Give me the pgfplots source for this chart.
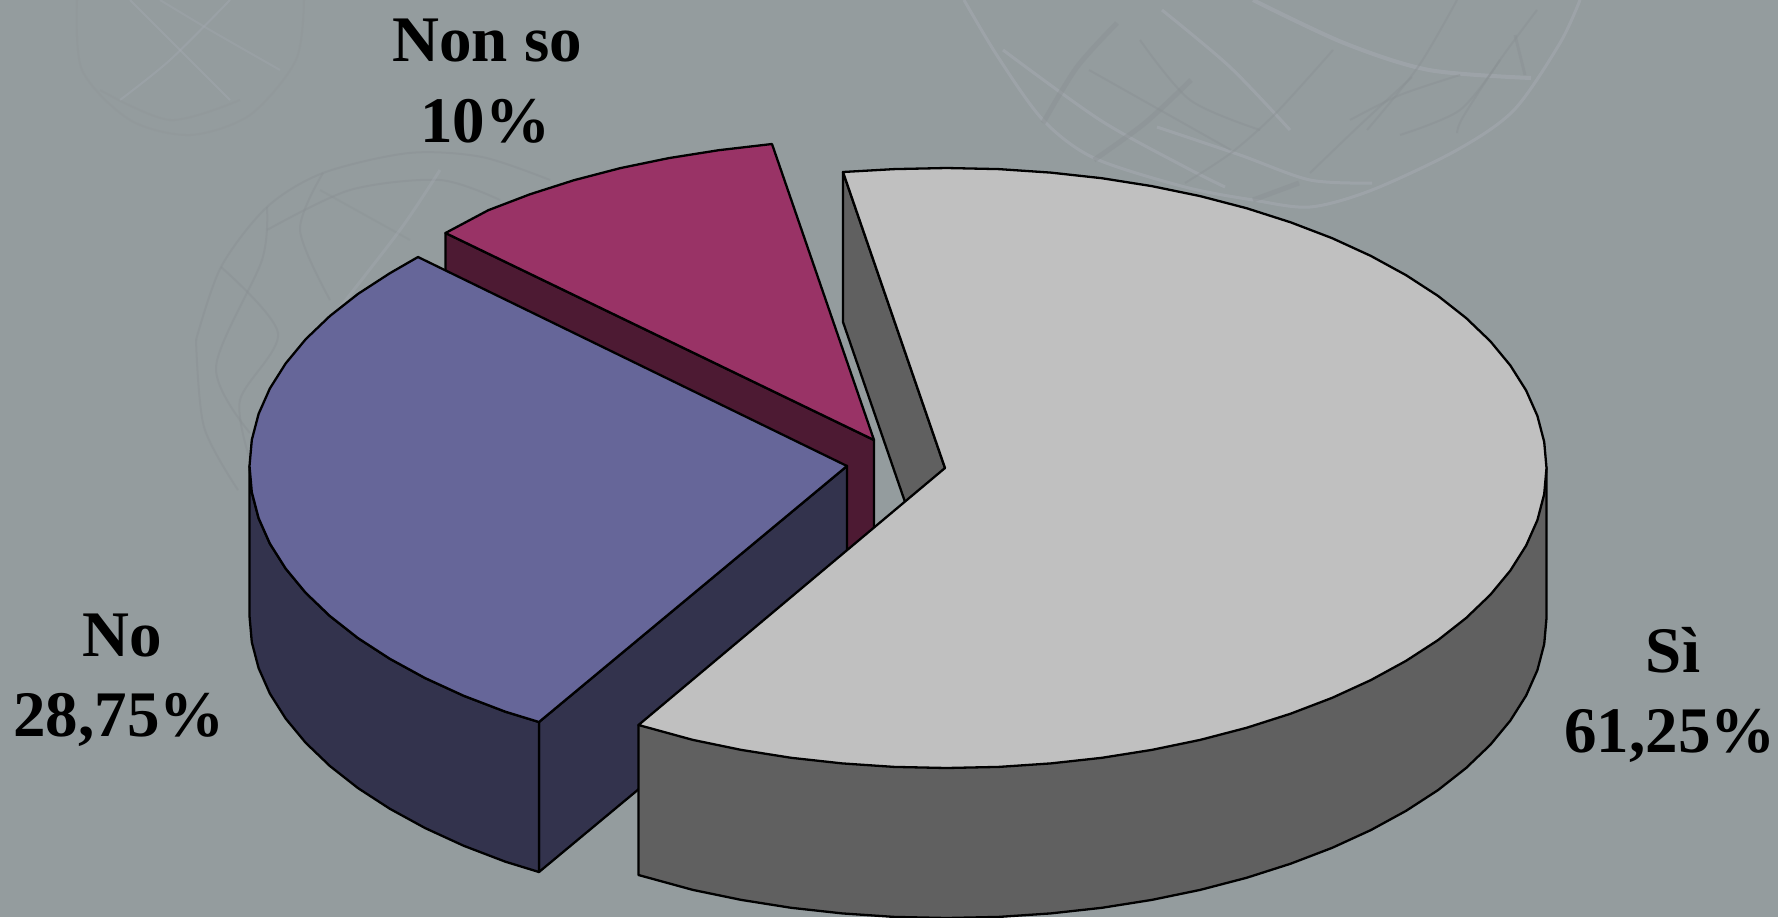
\documentclass[border=0pt]{standalone}
\usepackage{pgfplots}
\pgfplotsset{compat=1.18}
\usepackage{fontspec}
\setmainfont{Liberation Serif}
\definecolor{bg}{HTML}{949C9E}
\definecolor{meshl}{HTML}{A3A9B0}
\definecolor{meshd}{HTML}{8A9093}
\definecolor{sitop}{HTML}{C0C0C0}
\definecolor{siside}{HTML}{606060}
\definecolor{notop}{HTML}{666699}
\definecolor{noside}{HTML}{33334D}
\definecolor{nstop}{HTML}{993366}
\definecolor{nsside}{HTML}{4D1A33}
\newcommand{\lab}[1]{\fontsize{32.5}{38}\selectfont\bfseries #1}
\begin{document}
\begin{tikzpicture}
\begin{axis}[
  width=889pt, height=458.5pt, scale only axis,
  xmin=0, xmax=1778, ymin=0, ymax=917, y dir=reverse,
  hide axis, clip=true,
  slice/.style={draw=black, line width=1.15pt, line join=round},
  wl/.style={meshl, smooth, line width=1.5pt, opacity=.6},
  wd/.style={meshd, smooth, line width=1pt, opacity=.45},
  wt/.style={meshd, smooth, line width=2.5pt, opacity=.45},
]
% background
\addplot[fill=bg, draw=none] coordinates {(0,0)(1778,0)(1778,917)(0,917)} -- cycle;

% faint spheres: right
\addplot[wl] coordinates {(964,0)(998,57)(1043,120)(1094,158)(1185,187)(1253,200)(1310,207)(1372,190)(1457,150)(1514,110)(1560,43)(1580,0)};
\addplot[wl, line width=2pt] coordinates {(1253,0)(1344,43)(1429,70)(1531,78)};
\addplot[wl] coordinates {(1162,10)(1230,67)(1290,130)};
\addplot[wl] coordinates {(1003,50)(1100,120)(1185,167)(1225,187)};
\addplot[wl] coordinates {(1157,127)(1240,155)(1310,180)(1372,183)};
\addplot[wd] coordinates {(1089,70)(1160,110)(1231,150)};
\addplot[wd] coordinates {(1333,50)(1276,113)(1231,153)(1185,183)};
\addplot[wd] coordinates {(1457,0)(1418,67)(1367,130)};
\addplot[wd] coordinates {(1412,77)(1360,125)(1310,173)};
\addplot[wd] coordinates {(1537,10)(1500,60)(1463,117)(1457,133)};
\addplot[wd] coordinates {(1350,120)(1400,95)(1460,75)};
\addplot[wd] coordinates {(1400,135)(1460,110)(1500,60)};
\addplot[wd] coordinates {(1140,40)(1190,100)(1260,130)};
\addplot[wt] coordinates {(1117,23)(1077,67)(1043,123)};
\addplot[wt] coordinates {(1191,80)(1145,123)(1094,160)};
\addplot[wt] coordinates {(1299,183)(1253,200)};
\addplot[wt, line width=1.5pt] coordinates {(1515,35)(1525,75)};

% faint spheres: middle
\addplot[wd] coordinates {(196,340)(221,267)(267,207)(323,173)(409,153)(482,157)(550,180)};
\addplot[wd] coordinates {(196,340)(204,427)(238,490)};
\addplot[wd] coordinates {(221,267)(278,333)(240,400)(250,460)};
\addplot[wd] coordinates {(267,207)(262,260)(216,367)(250,433)};
\addplot[wd] coordinates {(323,173)(300,230)(330,300)};
\addplot[wd] coordinates {(267,230)(350,190)(440,180)(500,200)};
\addplot[wd, opacity=.3] coordinates {(320,190)(410,240)};
\addplot[wl, opacity=.4] coordinates {(440,170)(400,230)(330,320)};

% faint spheres: top left
\addplot[wd, opacity=.2] coordinates {(77,0)(82,70)(130,120)(190,135)(250,115)(296,60)(304,0)};
\addplot[wl, line width=1pt, opacity=.45] coordinates {(130,0)(180,50)(230,100)};
\addplot[wl, line width=1pt, opacity=.45] coordinates {(230,0)(170,60)(120,100)};
\addplot[wl, line width=1pt, opacity=.35] coordinates {(160,0)(210,30)(280,70)};
\addplot[wd, opacity=.2] coordinates {(100,90)(170,120)(240,100)};

% Non so: side
\addplot[slice, fill=nsside] coordinates {(445.5,233)(874,440)(874,590)(445.5,383)} -- cycle;
% Si: far cut face
\addplot[slice, fill=siside] coordinates {(843,172)(945,468)(945,618)(843,322)} -- cycle;
% No: sides
\addplot[slice, fill=noside] coordinates {(847,466)(539,722)(539,872)(847,616)} -- cycle;
\addplot[slice, fill=noside] coordinates {(249.5,466)(251.8,492.1)(258.6,518.1)(269.9,543.6)(285.7,568.6)(305.7,592.8)(329.9,616)(358,638.1)(389.9,658.8)(425.2,678.1)(463.8,695.8)(505.4,711.7)(539,722)
  (539,872)(505.4,861.7)(463.8,845.8)(425.2,828.1)(389.9,808.8)(358,788.1)(329.9,766)(305.7,742.8)(285.7,718.6)(269.9,693.6)(258.6,668.1)(251.8,642.1)(249.5,616)} -- cycle;
% No: top
\addplot[slice, fill=notop] coordinates {(847,466)(418,257)(389.9,273.2)(358,293.9)(329.9,316)(305.7,339.2)(285.7,363.4)(269.9,388.4)(258.6,413.9)(251.8,439.9)(249.5,466)
  (251.8,492.1)(258.6,518.1)(269.9,543.6)(285.7,568.6)(305.7,592.8)(329.9,616)(358,638.1)(389.9,658.8)(425.2,678.1)(463.8,695.8)(505.4,711.7)(539,722)} -- cycle;
% Non so: top
\addplot[slice, fill=nstop] coordinates {(874,440)(772,144)(718.7,150.2)(668.8,158.1)(620.4,168.1)(574,180.2)(529.9,194.3)(488.3,210.2)(445.5,233)} -- cycle;
% Si: outer side
\addplot[slice, fill=siside] coordinates {(638.5,725)(1546.5,468)(1546.5,618)(1544.2,644.1)(1537.4,670.1)(1526.1,695.6)(1510.3,720.6)(1490.3,744.8)(1466.1,768)(1438,790.1)(1406.1,810.8)(1370.8,830.1)(1332.2,847.8)(1290.6,863.7)(1246.5,877.8)(1200.1,889.9)(1151.7,899.9)(1101.8,907.8)(1050.7,913.4)(998.8,916.9)(946.5,918)(894.2,916.9)(842.3,913.4)(791.2,907.8)(741.3,899.9)(692.9,889.9)(638.5,875)} -- cycle;
% Si: top
\addplot[slice, fill=sitop] coordinates {(843,172)(945,468)(638.5,725)(692.9,739.9)(741.3,749.9)(791.2,757.8)(842.3,763.4)(894.2,766.9)(946.5,768)
  (998.8,766.9)(1050.7,763.4)(1101.8,757.8)(1151.7,749.9)(1200.1,739.9)(1246.5,727.8)(1290.6,713.7)(1332.2,697.8)(1370.8,680.1)(1406.1,660.8)(1438,640.1)(1466.1,618)(1490.3,594.8)(1510.3,570.6)(1526.1,545.6)(1537.4,520.1)(1544.2,494.1)(1546.5,468)
  (1544.2,441.9)(1537.4,415.9)(1526.1,390.4)(1510.3,365.4)(1490.3,341.2)(1466.1,318)(1438,295.9)(1406.1,275.2)(1370.8,255.9)(1332.2,238.2)(1290.6,222.3)(1246.5,208.2)(1200.1,196.1)(1151.7,186.1)(1101.8,178.2)(1050.7,172.6)(998.8,169.1)(946.5,168)(894.2,169.1)} -- cycle;

% labels
\node[anchor=base] at (axis cs:487,61) {\lab{Non so}};
\node[anchor=base] at (axis cs:485,142) {\lab{10\%}};
\node[anchor=base] at (axis cs:122,656) {\lab{No}};
\node[anchor=base] at (axis cs:119,736) {\lab{28,75\%}};
\node[anchor=base] at (axis cs:1673,672) {\lab{Sì}};
\node[anchor=base] at (axis cs:1670,752) {\lab{61,25\%}};
\end{axis}
\end{tikzpicture}
\end{document}
